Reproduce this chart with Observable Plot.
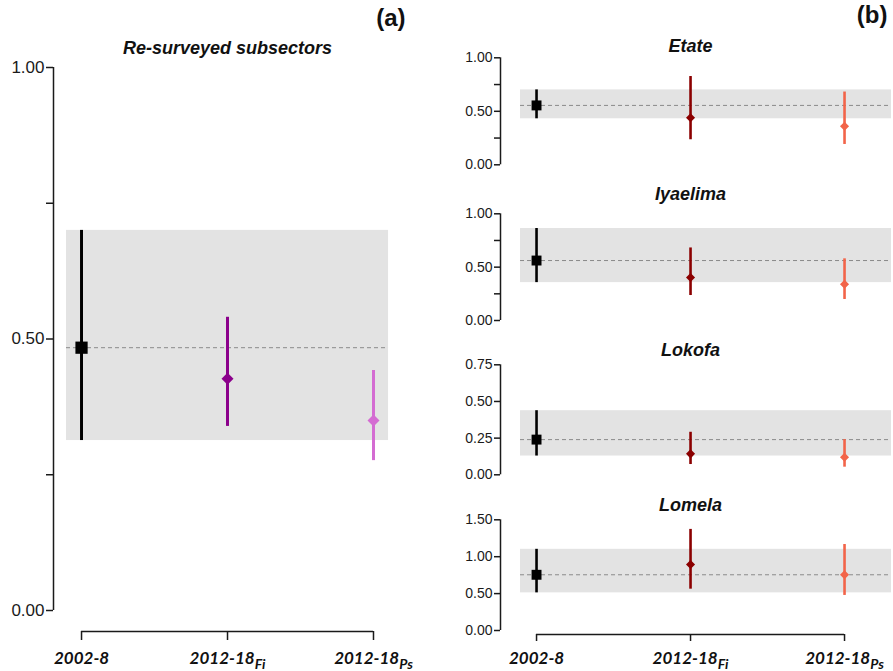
<!DOCTYPE html>
<html><head><meta charset="utf-8">
<script src="https://cdn.jsdelivr.net/npm/d3@7"></script>
<script src="https://cdn.jsdelivr.net/npm/@observablehq/plot@0.6"></script>
<style>
body{margin:0;background:#fff;}
#wrap{position:relative;width:893px;height:671px;overflow:hidden;background:#fff;}
#wrap > svg{position:absolute;background:transparent;}
</style></head><body><div id="wrap"></div>
<script>
// x categories (the part after "_" is drawn as a subscript)
const periods = ["2002-8", "2012-18_Fi", "2012-18_Ps"];

// (a) Re-surveyed subsectors
const leftTitle = "Re-surveyed subsectors";
const allMean = [0.484, 0.427, 0.350];
const allLow  = [0.313, 0.339, 0.276];
const allHigh = [0.700, 0.540, 0.442];
const leftTicks = [0, 0.25, 0.5, 0.75, 1];
const leftLabeled = [0, 0.5, 1];

// (b) individual sites
const sites = ["Etate", "Iyaelima", "Lokofa", "Lomela"];
const etateMean = [0.555, 0.440, 0.360];
const etateLow  = [0.430, 0.234, 0.190];
const etateHigh = [0.700, 0.825, 0.680];
const iyaelimaMean = [0.562, 0.403, 0.340];
const iyaelimaLow  = [0.355, 0.234, 0.197];
const iyaelimaHigh = [0.862, 0.680, 0.578];
const lokofaMean = [0.240, 0.143, 0.120];
const lokofaLow  = [0.128, 0.070, 0.052];
const lokofaHigh = [0.437, 0.290, 0.240];
const lomelaMean = [0.755, 0.894, 0.755];
const lomelaLow  = [0.510, 0.560, 0.475];
const lomelaHigh = [1.100, 1.370, 1.165];

const siteMax = [1, 1, 0.75, 1.5];
const siteTicks = [[0,0.25,0.5,0.75,1],[0,0.25,0.5,0.75,1],[0,0.25,0.5,0.75],[0,0.5,1,1.5]];
const siteLabeled = [[0,0.5,1],[0,0.5,1],[0,0.25,0.5,0.75],[0,0.5,1,1.5]];

const leftColors = ["#000000", "#8B008B", "#D46CD2"];
const rightColors = ["#000000", "#8B0000", "#F26449"];

const wrap = document.getElementById("wrap");
const NS = "http://www.w3.org/2000/svg";

function panel(o) {
  const rows = periods.map((p, i) => ({i, period: p, mean: o.mean[i], low: o.low[i], high: o.high[i]}));
  const [bx1, bx2] = o.band;
  const marks = [
    Plot.rect([rows[0]], {x1: () => bx1, x2: () => bx2, y1: "low", y2: "high", fill: "#e3e3e3"}),
    Plot.ruleY([rows[0]], {y: "mean", x1: () => bx1, x2: () => bx2, stroke: "#8a8a8a", strokeDasharray: "4,3", strokeWidth: 1}),
    Plot.ruleX(rows, {x: "i", y1: "low", y2: "high", stroke: "period", strokeWidth: o.lw}),
    Plot.dot(rows.slice(0, 1), {x: "i", y: "mean", symbol: "square", r: o.sq, fill: "period"}),
    Plot.dot(rows.slice(1), {x: "i", y: "mean", symbol: "diamond2", r: o.dia, fill: "period"}),
    Plot.ruleX([o.xDomain[0]], {y1: () => 0, y2: () => o.yMax, stroke: "#1a1a1a", strokeWidth: 1.5}),
    Plot.axisY({ticks: o.ticks, tickFormat: d => o.labeled.includes(d) ? d.toFixed(2) : "", tickSize: o.tickLen, tickPadding: 2, label: null, strokeWidth: 1.5, stroke: "#1a1a1a", fill: "#1a1a1a", fontSize: o.fs, fontFamily: "Liberation Sans, Arial, sans-serif"}),
    Plot.text([o.title], {x: () => 1, frameAnchor: "top", lineAnchor: "bottom", dy: o.titleDy, fontWeight: "bold", fontStyle: "italic", fontSize: o.titleFs, fontFamily: "Liberation Sans, Arial, sans-serif", fill: "#111"})
  ];
  if (o.tag) marks.push(Plot.text([o.tag], {frameAnchor: "top-right", textAnchor: "end", lineAnchor: "bottom", dx: o.tagDx, dy: o.tagDy, fontWeight: "bold", fontSize: 24, fontFamily: "Liberation Sans, Arial, sans-serif", fill: "#111"}));
  if (o.xAxis) {
    marks.push(Plot.ruleY([0], {x1: () => 0, x2: () => 2, dy: o.axisGap, stroke: "#1a1a1a", strokeWidth: 1.5}));
    marks.push(Plot.axisX({ticks: [0, 1, 2], tickFormat: i => periods[i], tickSize: o.xTick, tickPadding: o.xPad, dy: o.axisGap, label: null, strokeWidth: 1.5, stroke: "#1a1a1a", fill: "#111", fontFamily: "Lato, sans-serif", fontWeight: "bold", fontStyle: "italic", fontSize: 17}));
  }
  const svg = Plot.plot({
    width: o.width, height: o.height,
    marginTop: o.mt, marginBottom: o.mb, marginLeft: o.ml, marginRight: 0,
    x: {domain: o.xDomain, axis: null},
    y: {domain: [0, o.yMax], axis: null},
    color: {domain: periods, range: o.colors},
    style: {background: "transparent", overflow: "visible"},
    marks
  });
  svg.style.left = o.left + "px";
  svg.style.top = o.top + "px";
  // subscripts
  svg.querySelectorAll("text").forEach(t => {
    if (t.childElementCount === 0 && t.textContent.includes("_")) {
      const [a, b] = t.textContent.split("_");
      t.textContent = "";
      const t1 = document.createElementNS(NS, "tspan"); t1.textContent = a;
      const t2 = document.createElementNS(NS, "tspan"); t2.textContent = b;
      t2.setAttribute("dy", "5"); t2.setAttribute("font-size", "14");
      t.appendChild(t1); t.appendChild(t2);
    }
  });
  wrap.appendChild(svg);
}

// left panel (a)
panel({
  mean: allMean, low: allLow, high: allHigh, colors: leftColors,
  yMax: 1, ticks: leftTicks, labeled: leftLabeled, title: leftTitle, tag: "(a)",
  left: 0, top: 0, width: 440, height: 671, mt: 67, mb: 61, ml: 53,
  xDomain: [-0.192, 2.459], band: [-0.103, 2.103],
  sq: 6.9, dia: 5.4, lw: 3, fs: 17, titleFs: 18, tickLen: 7, titleDy: -14, tagDx: -35, tagDy: -42,
  xAxis: true, axisGap: 21, xTick: 9, xPad: 11
});

// right panels (b)
const siteData = [
  [etateMean, etateLow, etateHigh],
  [iyaelimaMean, iyaelimaLow, iyaelimaHigh],
  [lokofaMean, lokofaLow, lokofaHigh],
  [lomelaMean, lomelaLow, lomelaHigh]
];
const siteLayout = [
  {top: 0, height: 180, mt: 57.3, mb: 15.7, titleDy: -6},
  {top: 180, height: 155, mt: 33.3, mb: 15, titleDy: -14},
  {top: 335, height: 155, mt: 29.3, mb: 15.7, titleDy: -9},
  {top: 490, height: 181, mt: 29.3, mb: 41, titleDy: -9}
];
sites.forEach((s, k) => {
  const L = siteLayout[k];
  panel({
    mean: siteData[k][0], low: siteData[k][1], high: siteData[k][2], colors: rightColors,
    yMax: siteMax[k], ticks: siteTicks[k], labeled: siteLabeled[k], title: s,
    tag: k === 0 ? "(b)" : null,
    left: 440, top: L.top, width: 453, height: L.height, mt: L.mt, mb: L.mb, ml: 60,
    xDomain: [-0.234, 2.318], band: [-0.104, 2.305],
    sq: 5.6, dia: 4.1, lw: 2.6, fs: 14, titleFs: 18, tickLen: 6, titleDy: L.titleDy, tagDx: -6, tagDy: -35,
    xAxis: k === 3, axisGap: 4, xTick: 7, xPad: 10
  });
});
</script></body></html>
